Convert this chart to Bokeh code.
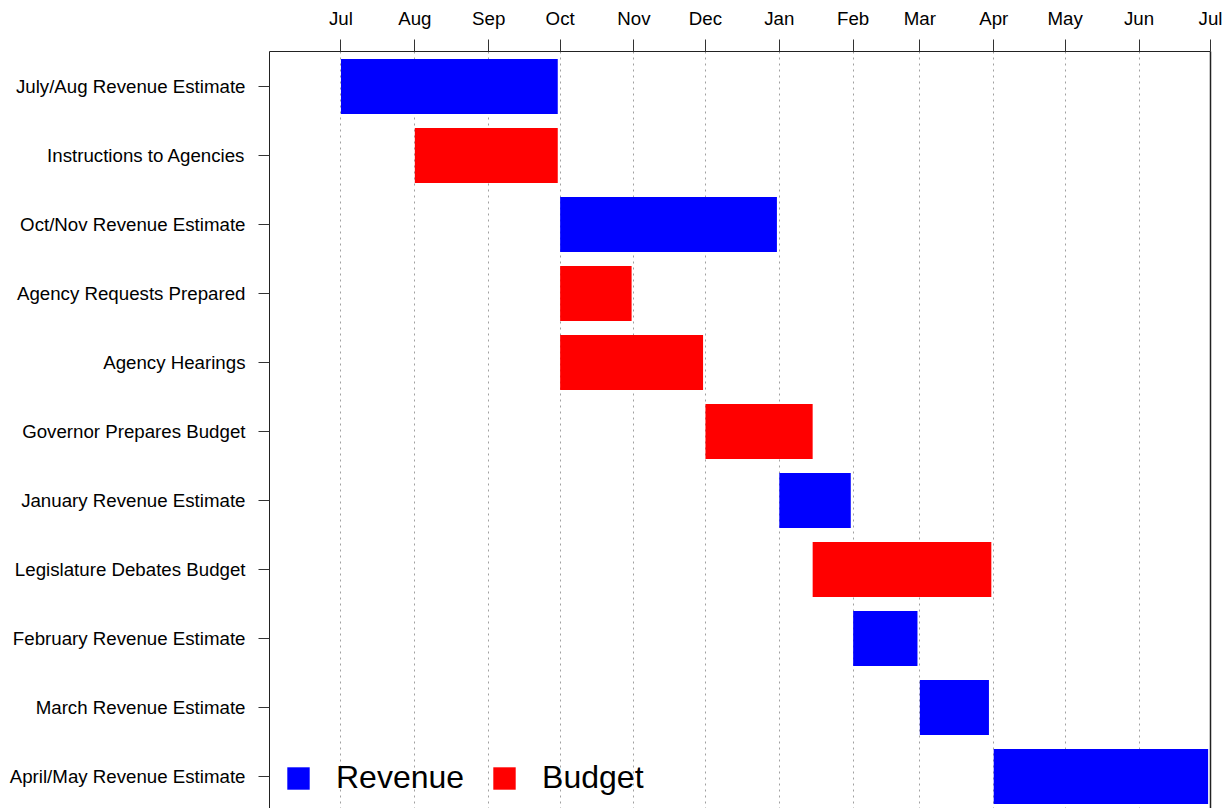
from datetime import datetime
import pandas as pd
from bokeh.plotting import figure
from bokeh.models import (Range1d, FixedTicker, DatetimeTickFormatter, ColumnDataSource,
                          LinearAxis)
from bokeh.embed import file_html
from bokeh.resources import INLINE

# ---- data ----
tasks = [
    "July/Aug Revenue Estimate",
    "Instructions to Agencies",
    "Oct/Nov Revenue Estimate",
    "Agency Requests Prepared",
    "Agency Hearings",
    "Governor Prepares Budget",
    "January Revenue Estimate",
    "Legislature Debates Budget",
    "February Revenue Estimate",
    "March Revenue Estimate",
    "April/May Revenue Estimate",
]
start_dates = [
    "2014-07-01", "2014-08-01", "2014-10-01", "2014-10-01", "2014-10-01",
    "2014-12-01", "2015-01-01", "2015-01-15", "2015-02-01", "2015-03-01",
    "2015-04-01",
]
end_dates = [
    "2014-09-30", "2014-09-30", "2014-12-31", "2014-10-31", "2014-11-30",
    "2015-01-15", "2015-01-31", "2015-03-31", "2015-02-28", "2015-03-30",
    "2015-06-30",
]
phases = [
    "Revenue", "Budget", "Revenue", "Budget", "Budget",
    "Budget", "Revenue", "Budget", "Revenue", "Revenue",
    "Revenue",
]
month_ticks = [
    "2014-07-01", "2014-08-01", "2014-09-01", "2014-10-01", "2014-11-01",
    "2014-12-01", "2015-01-01", "2015-02-01", "2015-03-01", "2015-04-01",
    "2015-05-01", "2015-06-01", "2015-07-01",
]
phase_order = ["Revenue", "Budget"]
phase_colors = {"Revenue": "#0000ff", "Budget": "#ff0000"}

df = pd.DataFrame(dict(
    task=tasks,
    start=pd.to_datetime(start_dates),
    end=pd.to_datetime(end_dates),
    phase=phases,
    row=list(range(len(tasks))),
))

epoch = datetime(1970, 1, 1)
tick_ms = [(datetime.fromisoformat(d) - epoch).total_seconds() * 1000.0 for d in month_ticks]

n = len(tasks)
p = figure(
    width=1231, height=808,
    x_axis_type="datetime", x_axis_location="above",
    x_range=Range1d(datetime(2014, 6, 1), datetime(2015, 7, 1)),
    y_range=Range1d(n - 0.536, -0.507),
    output_backend="svg", toolbar_location=None,
    min_border_left=269, min_border_top=51, min_border_right=21, min_border_bottom=0,
)

for kind in phase_order:
    src = ColumnDataSource(df[df.phase == kind])
    p.hbar(y="row", left="start", right="end", height=0.8, source=src,
           fill_color=phase_colors[kind], line_color=None, legend_label=kind)

# axes
ticker = FixedTicker(ticks=tick_ms)
p.xaxis.ticker = ticker
p.xgrid.ticker = ticker
p.xaxis.formatter = DatetimeTickFormatter(
    microseconds="%b", milliseconds="%b", seconds="%b", minsec="%b",
    minutes="%b", hourmin="%b", hours="%b", days="%b", months="%b", years="%b",
)
p.yaxis.ticker = FixedTicker(ticks=list(range(n)))
p.yaxis.major_label_overrides = {i: t for i, t in enumerate(tasks)}

for ax in (p.xaxis[0], p.yaxis[0]):
    ax.axis_line_color = "#222222"
    ax.major_tick_line_color = "#333333"
    ax.major_tick_in = 0
    ax.minor_tick_line_color = None
    ax.major_label_text_font = "Liberation Sans"
    ax.major_label_text_font_size = "18.7px"
    ax.major_label_text_color = "black"
p.xaxis.major_tick_out = 12
p.xaxis.major_label_standoff = 11
p.yaxis.major_tick_out = 11
p.yaxis.major_label_standoff = 13

# right-hand frame line (box edge) without a bottom edge
right_edge = LinearAxis(ticker=FixedTicker(ticks=[]), axis_line_color="#222222",
                        axis_line_width=1.5, major_tick_line_color=None,
                        minor_tick_line_color=None, major_label_text_font_size="0px")
p.add_layout(right_edge, "right")

p.ygrid.visible = False
p.xgrid.grid_line_color = "#a0a0a0"
p.xgrid.grid_line_dash = "2 4"
p.xgrid.grid_line_width = 1

p.outline_line_color = None

lg = p.legend[0]
lg.orientation = "horizontal"
lg.location = (15, 12)
lg.margin = 0
lg.padding = 0
lg.spacing = 26
lg.glyph_width = 28
lg.glyph_height = 28
lg.label_standoff = 24
lg.label_text_font = "Liberation Sans"
lg.label_text_font_size = "32px"
lg.label_text_color = "black"
lg.background_fill_alpha = 0
lg.border_line_alpha = 0

open("out.html", "w").write(file_html(p, INLINE))
